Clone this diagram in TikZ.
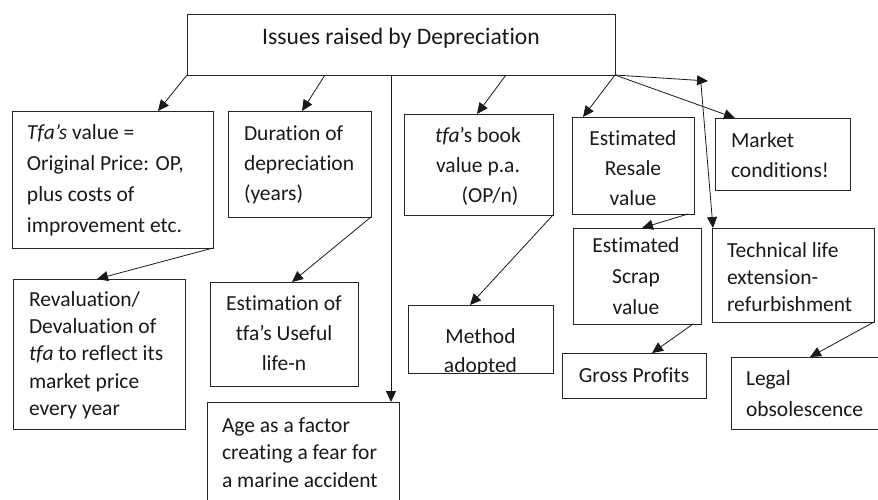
\documentclass[tikz,border=0pt]{standalone}
\usepackage{fontspec}
\setmainfont{Carlito}[Ligatures=NoCommon]
\usetikzlibrary{arrows.meta}
\newcommand\myfs[1]{\fontsize{21.5}{#1}\selectfont}
\tikzset{
  box/.style={draw=black!85, line width=0.9pt, inner sep=0pt, outer sep=0pt},
  txt/.style={inner sep=0pt, outer sep=0pt, text=black!90},
  arr/.style={draw=black!90, line width=0.8pt, -{Triangle[length=11pt,width=10pt]}},
}
\begin{document}
\begin{tikzpicture}[x=1pt,y=-1pt]
\useasboundingbox (0,0) rectangle (878,499);
% boxes
\node[box, minimum width=428pt, minimum height=61pt] (top) at (401,44.5) {};
\node[box, minimum width=201pt, minimum height=137pt] (A) at (112.5,179.5) {};
\node[box, minimum width=143pt, minimum height=106pt] (B) at (299.5,164) {};
\node[box, minimum width=149pt, minimum height=101pt] (C) at (478.5,164.5) {};
\node[box, minimum width=122pt, minimum height=97pt] (D) at (633,165.5) {};
\node[box, minimum width=135pt, minimum height=72pt] (E) at (782.5,154) {};
\node[box, minimum width=128pt, minimum height=96pt] (F) at (637,276) {};
\node[box, minimum width=162pt, minimum height=94pt] (G) at (793,275) {};
\node[box, minimum width=144pt, minimum height=45pt] (H) at (634,375.5) {};
\node[box, minimum width=149pt, minimum height=72pt] (I) at (805.5,393) {};
\node[box, minimum width=145pt, minimum height=68pt] (J) at (480.5,339) {};
\node[box, minimum width=172pt, minimum height=150pt] (K) at (99,354) {};
\node[box, minimum width=148pt, minimum height=104pt] (L) at (284,334) {};
\node[box, minimum width=192pt, minimum height=118pt] (M) at (303,461) {};
% texts
\node[txt, font=\fontsize{23.6}{31}\selectfont] (ttop) at (401,37.8) {\strut Issues raised by Depreciation};
\node[txt, font=\myfs{31}, align=left, anchor=west] (tA) at (27,179.3)
  {\strut\textit{Tfa’s} value =\\Original Price: OP,\\plus costs of\\improvement etc.\strut};
\node[txt, font=\myfs{30}, align=left, anchor=west] (tB) at (244,164)
  {\strut Duration of\\depreciation\\(years)\strut};
\node[txt, font=\myfs{30}, align=center] (tC) at (478,166)
  {\strut\textit{tfa}’s book\\value p.a.\\\hspace*{24pt}(OP/n)\strut};
\node[txt, font=\myfs{30}, align=center] (tD) at (633,169.5)
  {\strut Estimated\\Resale\\value\strut};
\node[txt, font=\myfs{30}, align=left, anchor=west] (tE) at (731,156)
  {\strut Market\\conditions!\strut};
\node[txt, font=\myfs{31}, align=center] (tF) at (636,276.8)
  {\strut Estimated\\Scrap\\value\strut};
\node[txt, font=\myfs{27}, align=left, anchor=west] (tG) at (727,278.6)
  {\strut Technical life\\extension-\\refurbishment\strut};
\node[txt, font=\myfs{31}] (tH) at (634,375.8) {\strut Gross Profits};
\node[txt, font=\myfs{31}, align=left, anchor=west] (tI) at (746,394.3)
  {\strut Legal\\obsolescence\strut};
\begin{scope}
  \clip (J.north west) rectangle (J.south east);
  \node[txt, font=\myfs{29}, align=center] (tJ) at (480.5,351.7)
    {\strut Method\\adopted\strut};
\end{scope}
\node[txt, font=\myfs{27.3}, align=left, anchor=west] (tK) at (29,355.5)
  {\strut Revaluation/\\Devaluation of\\\textit{tfa} to reflect its\\market price\\every year\strut};
\node[txt, font=\myfs{30}, align=center] (tL) at (284,334)
  {\strut Estimation of\\tfa’s Useful\\life-n\strut};
\node[txt, font=\myfs{27.5}, align=left, anchor=west] (tM) at (222,454)
  {\strut Age as a factor\\creating a fear for\\a marine accident\strut};
% free coordinates
\coordinate (mk) at (708,81);
\coordinate (gs) at (701,84);
% connectors
\draw[arr] (top.south west) -- ([xshift=146pt]A.north west);
\draw[arr] ([xshift=138pt]top.south west) -- ([xshift=74pt]B.north west);
\draw[arr] ([xshift=204pt]top.south west) -- ([xshift=184pt]M.north west);
\draw[arr] ([xshift=319pt]top.south west) -- ([xshift=73pt]C.north west);
\draw[arr] (top.south east) -- ([xshift=11pt]D.north west);
\draw[arr] (top.south east) -- ([xshift=20pt]E.north west);
\draw[arr] (top.south east) -- (mk);
\draw[arr] (gs) -- ([xshift=1pt]G.north west);
\draw[arr] (A.south east) -- ([xshift=84pt]K.north west);
\draw[arr] (B.south east) -- ([xshift=82pt]L.north west);
\draw[arr] (C.south east) -- ([xshift=62pt]J.north west);
\draw[arr] ([xshift=-6pt]D.south east) -- ([xshift=69pt]F.north west);
\draw[arr] ([xshift=-8pt]F.south east) -- ([xshift=90pt]H.north west);
\draw[arr] (G.south east) -- ([xshift=79pt]I.north west);
\end{tikzpicture}
\end{document}
